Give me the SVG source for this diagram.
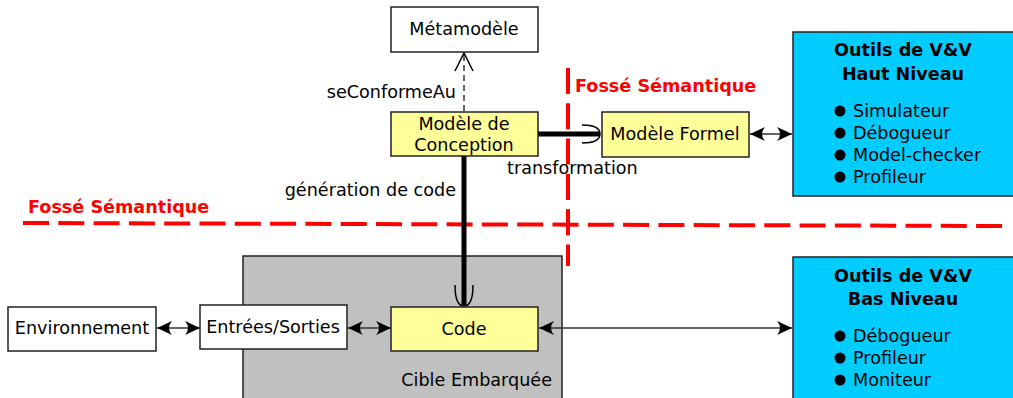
<svg xmlns="http://www.w3.org/2000/svg" width="1013" height="398" viewBox="0 0 1013 398">
<style>
text{font-family:"DejaVu Sans","Liberation Sans",sans-serif;font-size:17.6px;fill:#000}
.box{stroke:#222;stroke-width:1.5}
.white{fill:#fff}
.yel{fill:#ffff99}
.blue{fill:#00ccff}
.gray{fill:#c0c0c0}
.red{font-weight:bold;fill:#ff0000}
.b{font-weight:bold}
.thin{stroke:#333;stroke-width:1.5;fill:none}
.thick{stroke:#000;stroke-width:5;fill:none}
.cup{stroke:#000;stroke-width:1.5;fill:none}
.redd{stroke:#ff0000;stroke-width:4;fill:none;stroke-dasharray:26 9.3}
</style>
<defs>
<marker id="ah" viewBox="-16 -8 17 16" refX="0" refY="0" markerWidth="17" markerHeight="16" orient="auto-start-reverse" markerUnits="userSpaceOnUse">
<path d="M0,0 L-15,-7 Q-9,0 -15,7 Z" fill="#000"/>
</marker>
</defs>
<g id="cible">
<rect class="box gray" x="243" y="256" width="319" height="150"/>
<text x="552" y="386" text-anchor="end">Cible Embarquée</text>
</g>
<g id="semantic-gaps">
<path class="redd" d="M23,223 L1003,226"/>
<path class="redd" d="M568,68 L568,266"/>
<text class="red" x="575" y="92">Fossé Sémantique</text>
<text class="red" x="28" y="213">Fossé Sémantique</text>
</g>
<g id="connectors">
<path class="thin" d="M464,111 L464,54" stroke-dasharray="6 4"/>
<path class="cup" d="M455,71 L464,53 L473,71"/>
<text x="456" y="98" text-anchor="end">seConformeAu</text>
<path class="thick" d="M538,134 L600,134"/>
<path class="cup" d="M582,125 Q600,125 600,134 Q600,143 582,143"/>
<text x="507" y="174">transformation</text>
<path class="thick" d="M464,156 L464,305"/>
<path class="cup" d="M455,285 Q455,306 464,306 Q473,306 473,285"/>
<text x="456" y="196" text-anchor="end">génération de code</text>
<path class="thin" d="M750,134 L792,134" marker-start="url(#ah)" marker-end="url(#ah)"/>
<path class="thin" d="M157,328 L200,328" marker-start="url(#ah)" marker-end="url(#ah)"/>
<path class="thin" d="M348,328 L391,328" marker-start="url(#ah)" marker-end="url(#ah)"/>
<path class="thin" d="M539,328 L792,328" marker-start="url(#ah)" marker-end="url(#ah)"/>
</g>
<g id="metamodele">
<rect class="box white" x="391" y="7" width="147" height="45"/>
<text x="464" y="35" text-anchor="middle">Métamodèle</text>
</g>
<g id="modele-conception">
<rect class="box yel" x="391" y="112" width="147" height="44"/>
<text x="464" y="130" text-anchor="middle">Modèle de</text>
<text x="464" y="151" text-anchor="middle">Conception</text>
</g>
<g id="modele-formel">
<rect class="box yel" x="602" y="112" width="147" height="45"/>
<text x="675" y="140" text-anchor="middle">Modèle Formel</text>
</g>
<g id="outils-haut">
<rect class="box blue" x="793" y="32" width="230" height="164"/>
<text class="b" x="903" y="56" text-anchor="middle">Outils de V&amp;V</text>
<text class="b" x="903" y="80" text-anchor="middle">Haut Niveau</text>
<circle cx="840" cy="111" r="5.5"/><text x="853" y="117">Simulateur</text>
<circle cx="840" cy="133" r="5.5"/><text x="853" y="139">Débogueur</text>
<circle cx="840" cy="155" r="5.5"/><text x="853" y="161">Model-checker</text>
<circle cx="840" cy="177" r="5.5"/><text x="853" y="183">Profileur</text>
</g>
<g id="outils-bas">
<rect class="box blue" x="793" y="257" width="230" height="150"/>
<text class="b" x="903" y="282" text-anchor="middle">Outils de V&amp;V</text>
<text class="b" x="903" y="305" text-anchor="middle">Bas Niveau</text>
<circle cx="840" cy="336" r="5.5"/><text x="853" y="342">Débogueur</text>
<circle cx="840" cy="358" r="5.5"/><text x="853" y="364">Profileur</text>
<circle cx="840" cy="380" r="5.5"/><text x="853" y="386">Moniteur</text>
</g>
<g id="environnement">
<rect class="box white" x="8" y="307" width="148" height="44"/>
<text x="82" y="334" text-anchor="middle">Environnement</text>
</g>
<g id="entrees-sorties">
<rect class="box white" x="200" y="305" width="147" height="44"/>
<text x="273" y="333" text-anchor="middle">Entrées/Sorties</text>
</g>
<g id="code">
<rect class="box yel" x="391" y="307" width="147" height="44"/>
<text x="464" y="335" text-anchor="middle">Code</text>
</g>
</svg>
